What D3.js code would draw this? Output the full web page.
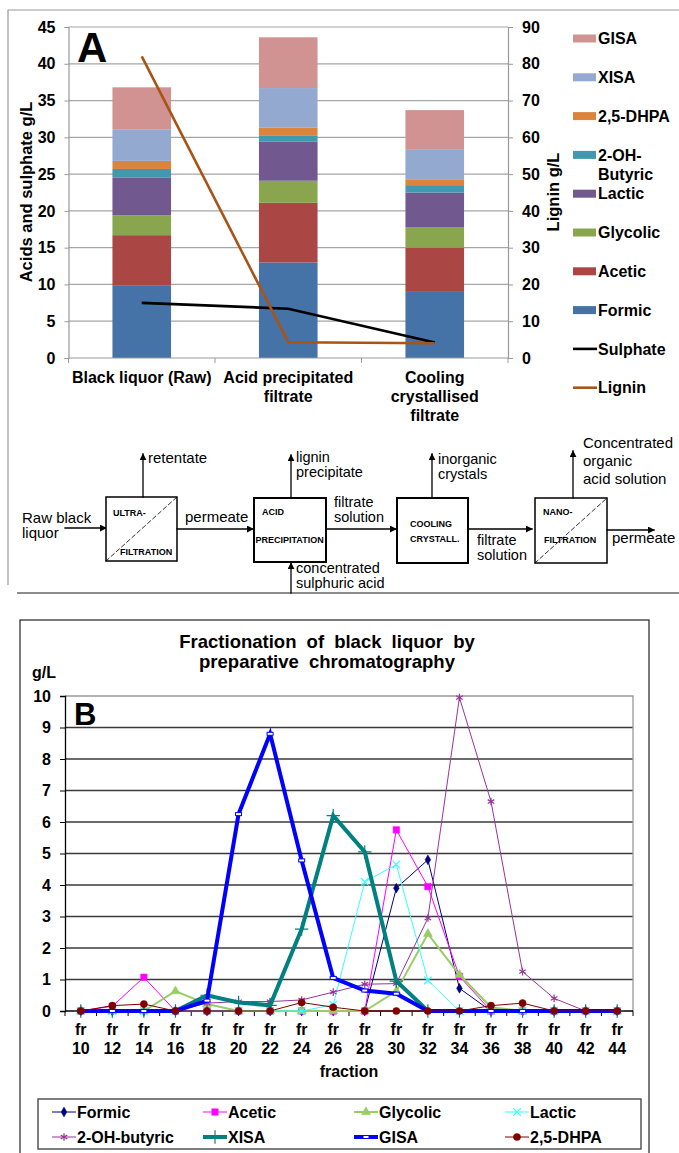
<!DOCTYPE html>
<html>
<head>
<meta charset="utf-8">
<script src="https://cdn.jsdelivr.net/npm/d3@7"></script>
<style>
  body { margin: 0; background: #fff; }
  svg { display: block; font-family: "Liberation Sans", Arial, sans-serif; }
</style>
</head>
<body>
<div id="fig"></div>
<script>
// ---- panel A data (g/L) ----
var stages = ["Black liquor (Raw)", "Acid precipitated filtrate", "Cooling crystallised filtrate"];
var stageLines = [["Black liquor (Raw)"], ["Acid precipitated", "filtrate"], ["Cooling", "crystallised", "filtrate"]];
var acidKeys = ["Formic", "Acetic", "Glycolic", "Lactic", "2-OH-Butyric", "2,5-DHPA", "XISA", "GISA"];
var formic = [9.9, 13.0, 9.1];
var acetic = [6.8, 8.1, 5.9];
var glycolic = [2.7, 3.0, 2.8];
var lactic = [5.1, 5.3, 4.7];
var ohButyric = [1.2, 0.8, 1.0];
var dhpa = [1.1, 1.1, 0.8];
var xisa = [4.3, 5.4, 4.0];
var gisa = [5.7, 6.9, 5.4];
var sulphate = [7.5, 6.7, 2.1];
var lignin = [82, 4.3, 4.0];
var leftTicks = [0, 5, 10, 15, 20, 25, 30, 35, 40, 45];
var rightTicks = [0, 10, 20, 30, 40, 50, 60, 70, 80, 90];

// ---- panel B data (g/L per fraction) ----
var fractions = ["10", "12", "14", "16", "18", "20", "22", "24", "26", "28", "30", "32", "34", "36", "38", "40", "42", "44"];
var bFormic    = [0, 0, 0, 0, 0, 0, 0, 0, 0, 0, 3.9, 4.8, 0.72, 0, 0, 0, 0, 0];
var bAcetic    = [0, 0.15, 1.07, 0, 0, 0, 0, 0, 0, 0, 5.75, 3.95, 1.1, 0, 0, 0, 0, 0];
var bGlycolic  = [0, 0, 0, 0.63, 0.22, 0, 0, 0, 0, 0, 0.63, 2.45, 1.15, 0.12, 0, 0, 0, 0];
var bLactic    = [0, 0, 0, 0, 0, 0, 0, 0, 0.2, 4.1, 4.65, 0.97, 0, 0, 0, 0, 0, 0];
var bOhButyric = [0, 0, 0, 0, 0.25, 0.3, 0.3, 0.35, 0.6, 0.85, 0.87, 2.95, 9.95, 6.65, 1.25, 0.4, 0, 0];
var bXisa      = [0, 0, 0, 0, 0.5, 0.27, 0.18, 2.6, 6.2, 5.05, 0.95, 0, 0, 0, 0, 0, 0, 0];
var bGisa      = [0, 0, 0, 0, 0.33, 6.25, 8.8, 4.78, 1.05, 0.65, 0.55, 0, 0, 0, 0, 0, 0, 0];
var bDhpa      = [0, 0.17, 0.22, 0, 0, 0, 0, 0.27, 0.12, 0, 0, 0, 0, 0.17, 0.25, 0, 0, 0];
var bTicks = [0, 1, 2, 3, 4, 5, 6, 7, 8, 9, 10];

var svg = d3.select("#fig").append("svg")
  .attr("width", 679)
  .attr("height", 1153);

// ================= panel A =================
var acidColors = {
  "Formic": "#4572A7", "Acetic": "#AA4643", "Glycolic": "#89A54E", "Lactic": "#71588F",
  "2-OH-Butyric": "#4198AF", "2,5-DHPA": "#DB843D", "XISA": "#93A9CF", "GISA": "#D19392"
};
var acidSeries = [formic, acetic, glycolic, lactic, ohButyric, dhpa, xisa, gisa];
var rowsA = stages.map(function(s, i) {
  var r = { stage: s };
  acidKeys.forEach(function(k, j) { r[k] = acidSeries[j][i]; });
  return r;
});

// frame round panel A and the flow diagram
svg.append("path")
  .attr("d", "M8,585 L8,10 L679,10")
  .attr("fill", "none").attr("stroke", "#999").attr("stroke-width", 1.2);
svg.append("line")
  .attr("x1", 17).attr("x2", 679).attr("y1", 593).attr("y2", 593)
  .attr("stroke", "#666").attr("stroke-width", 1.5);

var gA = svg.append("g");
var xA = d3.scaleBand().domain(stages).range([68.5, 508]).paddingInner(0.6).paddingOuter(0.3);
var yL = d3.scaleLinear().domain([0, 45]).range([358, 27]);
var yR = d3.scaleLinear().domain([0, 90]).range([358, 27]);

// gridlines
gA.selectAll(".grid").data(leftTicks.slice(1)).enter().append("line")
  .attr("x1", 68.5).attr("x2", 508)
  .attr("y1", function(d) { return yL(d); }).attr("y2", function(d) { return yL(d); })
  .attr("stroke", "#a6a6a6").attr("stroke-width", 1.2);

// stacked bars
var stackA = d3.stack().keys(acidKeys)(rowsA);
gA.selectAll(".layer").data(stackA).enter().append("g")
  .attr("fill", function(d) { return acidColors[d.key]; })
  .selectAll("rect").data(function(d) { return d; }).enter().append("rect")
  .attr("x", function(d) { return xA(d.data.stage); })
  .attr("width", xA.bandwidth())
  .attr("y", function(d) { return yL(d[1]); })
  .attr("height", function(d) { return yL(d[0]) - yL(d[1]); });

// axes
var axL = gA.append("g").attr("transform", "translate(68.5,0)")
  .call(d3.axisLeft(yL).tickValues(leftTicks).tickSize(4).tickPadding(9));
var axR = gA.append("g").attr("transform", "translate(508,0)")
  .call(d3.axisRight(yR).tickValues(rightTicks).tickSize(5).tickPadding(9));
[axL, axR].forEach(function(ax) {
  ax.select(".domain").attr("stroke", "#999").attr("stroke-width", 1.2);
  ax.selectAll(".tick line").attr("stroke", "#999");
  ax.selectAll("text").attr("font-size", 16).attr("font-weight", "bold").attr("fill", "#000")
    .attr("font-family", "Liberation Sans, Arial, sans-serif");
});

// x axis with ticks at category boundaries
gA.append("line").attr("x1", 68.5).attr("x2", 508).attr("y1", 358).attr("y2", 358)
  .attr("stroke", "#999").attr("stroke-width", 1.2);
var bA = stages.map(function(s) { return xA(s) - xA.step() * xA.paddingInner() / 2; });
bA.push(508);
bA[0] = 68.5;
gA.selectAll(".xt").data(bA).enter().append("line")
  .attr("x1", function(d) { return d; }).attr("x2", function(d) { return d; })
  .attr("y1", 358).attr("y2", 363).attr("stroke", "#999");
gA.selectAll(".xl").data(stages).enter().append("text")
  .attr("x", function(d) { return xA(d) + xA.bandwidth() / 2; })
  .attr("y", 383)
  .attr("text-anchor", "middle").attr("font-size", 16).attr("font-weight", "bold")
  .each(function(d, i) {
    var t = d3.select(this);
    stageLines[i].forEach(function(line, k) {
      t.append("tspan").attr("x", xA(d) + xA.bandwidth() / 2).attr("dy", k === 0 ? 0 : 19).text(line);
    });
  });

// sulphate and lignin lines
var cx = function(i) { return xA(stages[i]) + xA.bandwidth() / 2; };
gA.append("path").datum(sulphate)
  .attr("fill", "none").attr("stroke", "#000").attr("stroke-width", 2.6)
  .attr("d", d3.line().x(function(d, i) { return cx(i); }).y(function(d) { return yL(d); }));
gA.append("path").datum(lignin)
  .attr("fill", "none").attr("stroke", "#A85416").attr("stroke-width", 2.6)
  .attr("d", d3.line().x(function(d, i) { return cx(i); }).y(function(d) { return yR(d); }));

// axis titles
gA.append("text").attr("transform", "translate(32,192) rotate(-90)")
  .attr("text-anchor", "middle").attr("font-size", 16.5).attr("font-weight", "bold")
  .text("Acids and sulphate g/L");
gA.append("text").attr("transform", "translate(559,192) rotate(-90)")
  .attr("text-anchor", "middle").attr("font-size", 16.5).attr("font-weight", "bold")
  .text("Lignin g/L");

gA.append("text").attr("x", 77).attr("y", 62).attr("font-size", 42).attr("font-weight", "bold").text("A");

// legend A
var legA = acidKeys.slice().reverse().map(function(k) { return { name: k, color: acidColors[k], type: "bar" }; });
legA.push({ name: "Sulphate", color: "#000", type: "line" });
legA.push({ name: "Lignin", color: "#A85416", type: "line" });
var lg = gA.selectAll(".lgA").data(legA).enter().append("g")
  .attr("transform", function(d, i) { return "translate(573," + (38.5 + i * 38.8) + ")"; });
lg.filter(function(d) { return d.type === "bar"; }).append("rect")
  .attr("x", 0).attr("y", -4).attr("width", 23).attr("height", 8).attr("fill", function(d) { return d.color; });
lg.filter(function(d) { return d.type === "line"; }).append("line")
  .attr("x1", 0).attr("x2", 24).attr("y1", 0).attr("y2", 0)
  .attr("stroke", function(d) { return d.color; }).attr("stroke-width", 2.6);
lg.append("text").attr("x", 25).attr("y", 0).attr("dy", "0.36em")
  .attr("font-size", 16).attr("font-weight", "bold")
  .each(function(d) {
    var t = d3.select(this);
    if (d.name === "2-OH-Butyric") {
      t.append("tspan").attr("x", 25).text("2-OH-");
      t.append("tspan").attr("x", 25).attr("dy", 19).text("Butyric");
    } else {
      t.text(d.name);
    }
  });

// ================= flow diagram =================
var dg = svg.append("g").attr("stroke-linecap", "square");
svg.append("defs").append("marker")
  .attr("id", "arr").attr("viewBox", "0 0 8 8").attr("refX", 7).attr("refY", 4)
  .attr("markerWidth", 7).attr("markerHeight", 7).attr("markerUnits", "userSpaceOnUse")
  .attr("orient", "auto")
  .append("path").attr("d", "M0,0 L8,4 L0,8 z").attr("fill", "#000");

function arrow(x1, y1, x2, y2) {
  dg.append("line").attr("x1", x1).attr("y1", y1).attr("x2", x2).attr("y2", y2)
    .attr("stroke", "#000").attr("stroke-width", 1.3).attr("marker-end", "url(#arr)");
}
function box(x, y, w, h, sw, diag) {
  dg.append("rect").attr("x", x).attr("y", y).attr("width", w).attr("height", h)
    .attr("fill", "#fff").attr("stroke", "#000").attr("stroke-width", sw);
  if (diag) {
    dg.append("line").attr("x1", x).attr("y1", y + h).attr("x2", x + w).attr("y2", y)
      .attr("stroke", "#000").attr("stroke-width", 0.8).attr("stroke-dasharray", "4,3");
  }
}
function label(x, y, lines, size, weight, lh) {
  var t = dg.append("text").attr("x", x).attr("y", y).attr("font-size", size).attr("font-weight", weight);
  lines.forEach(function(l, k) {
    t.append("tspan").attr("x", x).attr("dy", k === 0 ? 0 : lh).text(l);
  });
}

arrow(65, 528, 106, 528);
label(22, 523, ["Raw black", "liquor"], 15, "normal", 15);
box(106, 497, 71, 64, 1.5, true);
label(113, 516, ["ULTRA-"], 9, "bold", 0);
label(120, 555, ["FILTRATION"], 9, "bold", 0);
arrow(143, 497, 143, 454);
label(148, 463, ["retentate"], 15, "normal", 0);
arrow(177, 529, 253, 529);
label(185, 522, ["permeate"], 15, "normal", 0);

box(254, 498, 72, 64, 2, false);
label(262, 515, ["ACID"], 9, "bold", 0);
label(255.5, 543, ["PRECIPITATION"], 9, "bold", 0);
arrow(291, 498, 291, 455);
label(296, 462, ["lignin", "precipitate"], 14.5, "normal", 15);
arrow(291, 593, 291, 563);
label(296, 573, ["concentrated", "sulphuric acid"], 14.5, "normal", 15);
arrow(326, 529, 396, 529);
label(334, 507, ["filtrate", "solution"], 14.5, "normal", 15);

box(397, 498, 71, 65, 2, false);
label(410, 527, ["COOLING", "CRYSTALL."], 9, "bold", 15);
arrow(432, 498, 432, 454);
label(438, 464, ["inorganic", "crystals"], 14.5, "normal", 15);
arrow(468, 529, 532, 529);
label(477, 545, ["filtrate", "solution"], 14.5, "normal", 14.5);

box(535, 498, 72, 65, 1.5, true);
label(543, 515, ["NANO-"], 9, "bold", 0);
label(544, 543, ["FILTRATION"], 9, "bold", 0);
arrow(573, 498, 573, 451);
label(583, 448, ["Concentrated", "organic", "acid solution"], 15, "normal", 18);
arrow(607, 530, 654, 530);
label(612, 543, ["permeate"], 15, "normal", 0);

// ================= panel B =================
svg.append("rect").attr("x", 20).attr("y", 620).attr("width", 629).attr("height", 560)
  .attr("fill", "none").attr("stroke", "#222").attr("stroke-width", 1.2);

var gB = svg.append("g");
var xB = d3.scaleBand().domain(fractions).range([65, 633]);
var yB = d3.scaleLinear().domain([0, 10]).range([1011, 696]);

gB.append("text").attr("x", 327).attr("y", 648).attr("text-anchor", "middle")
  .attr("font-size", 18.5).attr("font-weight", "bold").attr("word-spacing", 5)
  .selectAll("tspan").data(["Fractionation of black liquor by", "preparative chromatography"])
  .enter().append("tspan").attr("x", 327).attr("dy", function(d, i) { return i === 0 ? 0 : 20; })
  .text(function(d) { return d; });

gB.append("text").attr("x", 32).attr("y", 678).attr("font-size", 16).attr("font-weight", "bold").text("g/L");

// gridlines and plot border
gB.selectAll(".gridB").data(bTicks.slice(1, 10)).enter().append("line")
  .attr("x1", 65).attr("x2", 633)
  .attr("y1", function(d) { return yB(d); }).attr("y2", function(d) { return yB(d); })
  .attr("stroke", "#3a3a3a").attr("stroke-width", 1.3);
gB.append("path").attr("d", "M65," + yB(10) + " L633," + yB(10) + " L633," + yB(0))
  .attr("fill", "none").attr("stroke", "#999").attr("stroke-width", 1.3);

var axB = gB.append("g").attr("transform", "translate(65,0)")
  .call(d3.axisLeft(yB).tickValues(bTicks).tickSize(5).tickPadding(9));
axB.select(".domain").attr("stroke", "#000").attr("stroke-width", 1.3);
axB.selectAll(".tick line").attr("stroke", "#000");
axB.selectAll("text").attr("font-size", 16).attr("font-weight", "bold").attr("fill", "#000")
  .attr("font-family", "Liberation Sans, Arial, sans-serif");

gB.append("line").attr("x1", 65).attr("x2", 633).attr("y1", yB(0)).attr("y2", yB(0))
  .attr("stroke", "#000").attr("stroke-width", 1.3);
var bB = fractions.map(function(f) { return xB(f); });
bB.push(633);
gB.selectAll(".xtB").data(bB).enter().append("line")
  .attr("x1", function(d) { return d; }).attr("x2", function(d) { return d; })
  .attr("y1", yB(0)).attr("y2", yB(0) + 5).attr("stroke", "#000");
var xl = gB.selectAll(".xlB").data(fractions).enter().append("text")
  .attr("text-anchor", "middle").attr("font-size", 16).attr("font-weight", "bold");
xl.append("tspan").attr("x", function(d) { return xB(d) + xB.bandwidth() / 2; }).attr("y", 1035).text("fr");
xl.append("tspan").attr("x", function(d) { return xB(d) + xB.bandwidth() / 2; }).attr("y", 1054).text(function(d) { return d; });
gB.append("text").attr("x", 349).attr("y", 1077).attr("text-anchor", "middle")
  .attr("font-size", 16).attr("font-weight", "bold").text("fraction");

gB.append("text").attr("x", 74).attr("y", 725).attr("font-size", 31).attr("font-weight", "bold").text("B");

var seriesB = [
  { name: "Formic", values: bFormic, color: "#000080", width: 1, sym: d3.symbolDiamond, size: 28, fill: true },
  { name: "Acetic", values: bAcetic, color: "#FF00FF", width: 1, sym: d3.symbolSquare, size: 42, fill: true },
  { name: "Glycolic", values: bGlycolic, color: "#99CC66", width: 2, sym: d3.symbolTriangle, size: 36, fill: true },
  { name: "Lactic", values: bLactic, color: "#33FFFF", width: 1, sym: d3.symbolTimes, size: 40, fill: false },
  { name: "2-OH-butyric", values: bOhButyric, color: "#993399", width: 1, sym: d3.symbolAsterisk, size: 40, fill: false },
  { name: "XISA", values: bXisa, color: "#008080", width: 4, sym: d3.symbolPlus, size: 60, fill: false },
  { name: "GISA", values: bGisa, color: "#0000FF", width: 4, sym: "dash", size: 0, fill: false },
  { name: "2,5-DHPA", values: bDhpa, color: "#800000", width: 1, sym: d3.symbolCircle, size: 40, fill: true }
];

function drawMarker(g, s) {
  if (s.sym === "dash") {
    g.append("rect").attr("x", -3).attr("y", -1.5).attr("width", 6).attr("height", 3)
      .attr("fill", "#fff").attr("stroke", s.color).attr("stroke-width", 1);
  } else {
    g.append("path").attr("d", d3.symbol().type(s.sym).size(s.size)())
      .attr("fill", s.fill ? s.color : "none")
      .attr("stroke", s.color).attr("stroke-width", s.fill ? 0.5 : 1.2);
  }
}

var lineB = d3.line()
  .x(function(d, i) { return xB(fractions[i]) + xB.bandwidth() / 2; })
  .y(function(d) { return yB(d); });
seriesB.forEach(function(s) {
  gB.append("path").datum(s.values)
    .attr("fill", "none").attr("stroke", s.color).attr("stroke-width", s.width)
    .attr("stroke-linejoin", "miter").attr("d", lineB);
  s.values.forEach(function(v, i) {
    var m = gB.append("g").attr("transform", "translate(" + (xB(fractions[i]) + xB.bandwidth() / 2) + "," + yB(v) + ")");
    drawMarker(m, s);
  });
});

// legend B
gB.append("rect").attr("x", 38).attr("y", 1099).attr("width", 603).attr("height", 50)
  .attr("fill", "#fff").attr("stroke", "#555").attr("stroke-width", 1.5);
var lgB = gB.selectAll(".lgB").data(seriesB).enter().append("g")
  .attr("transform", function(d, i) { return "translate(" + (52 + (i % 4) * 151) + "," + (1112 + Math.floor(i / 4) * 25) + ")"; });
lgB.append("line").attr("x1", 0).attr("x2", 24).attr("y1", 0).attr("y2", 0)
  .attr("stroke", function(d) { return d.color; }).attr("stroke-width", function(d) { return d.width; });
lgB.each(function(d) {
  var m = d3.select(this).append("g").attr("transform", "translate(12,0)");
  drawMarker(m, d);
});
lgB.append("text").attr("x", 25).attr("y", 0).attr("dy", "0.36em")
  .attr("font-size", 16).attr("font-weight", "bold").text(function(d) { return d.name; });
</script>
</body>
</html>
